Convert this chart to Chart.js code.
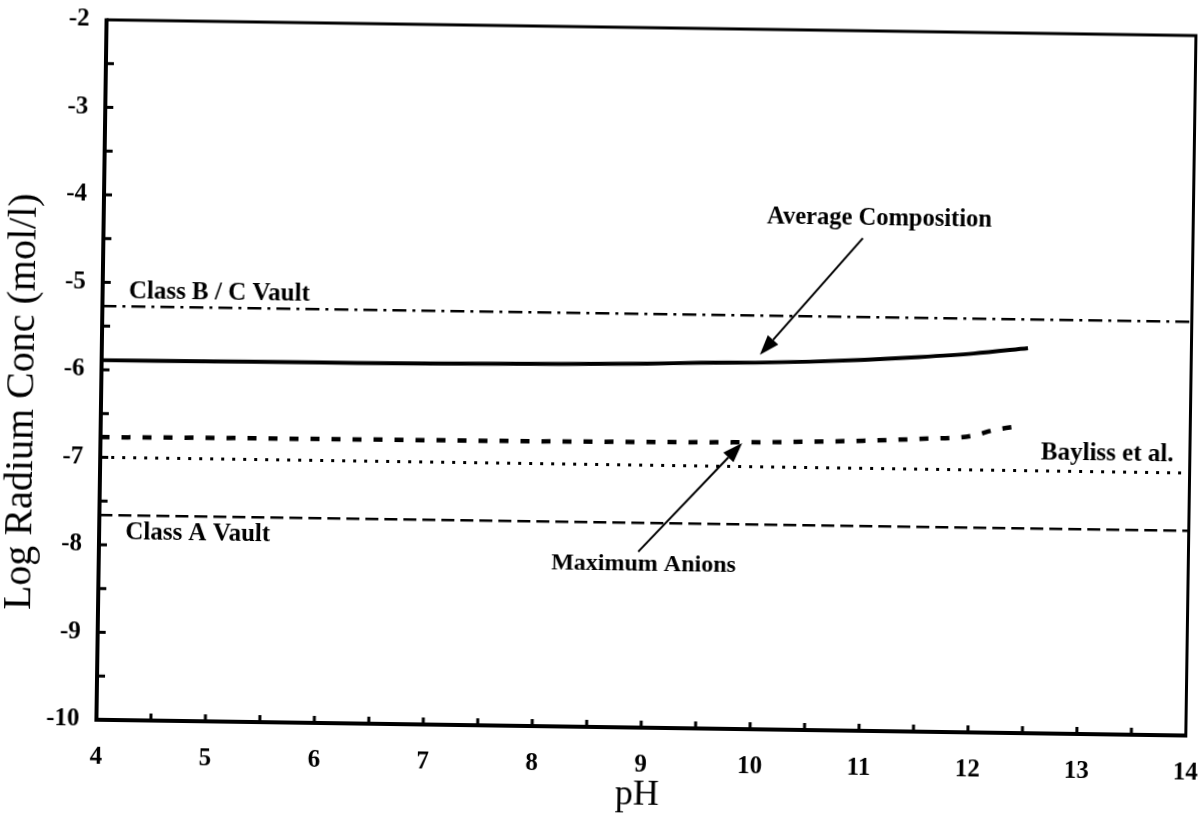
<!DOCTYPE html>
<html>
<head>
<meta charset="utf-8">
<title>Log Radium Conc vs pH</title>
<script src="https://cdn.jsdelivr.net/npm/chart.js@4.4.1/dist/chart.umd.min.js"></script>
<style>
  html, body { margin: 0; padding: 0; background: #fff; overflow: hidden; }
  /* the original is a slightly skewed scan, so the whole sheet is turned a little */
  #wrap { position: absolute; left: 0; top: 0; width: 1222px; height: 815px;
          transform: rotate(0.83deg); transform-origin: 599px 407px; }
</style>
</head>
<body>
<div id="wrap"><canvas id="radiumChart"></canvas></div>
<script>
// -----------------------------
//  DATA
// -----------------------------
const phTicks = [4, 5, 6, 7, 8, 9, 10, 11, 12, 13, 14];
const concTicks = [-10, -9, -8, -7, -6, -5, -4, -3, -2];

// horizontal limits (whole pH range)
const limitPH = [4, 14];
const classBC = [-5.27, -5.27];
const bayliss = [-7.0, -7.0];
const classA = [-7.66, -7.66];

// Average Composition curve
const avgPH = [4, 5, 6, 7, 8, 9, 9.5, 10, 10.5, 11, 11.5, 12, 12.5];
const avgConc = [-5.89, -5.885, -5.88, -5.875, -5.86, -5.84, -5.82, -5.81, -5.79, -5.76, -5.72, -5.67, -5.6];

// Maximum Anions curve
const maxPH = [4, 5, 6, 7, 8, 9, 10, 10.5, 11, 11.5, 12, 12.2, 12.45];
const maxConc = [-6.77, -6.76, -6.755, -6.75, -6.745, -6.735, -6.72, -6.705, -6.685, -6.655, -6.61, -6.54, -6.49];

// -----------------------------
//  LABELS / ARROWS (data coords)
// -----------------------------
const notes = [
    { text: "Average Composition", x: 11.12, y: -4.15, align: "center", size: 24.5 },
    { text: "Maximum Anions", x: 9.0, y: -8.13, align: "center", size: 24 },
    { text: "Class B / C Vault", x: 4.24, y: -5.1, align: "left", size: 25 },
    { text: "Class A Vault", x: 4.24, y: -7.86, align: "left", size: 25 },
    { text: "Bayliss et al.", x: 13.85, y: -6.8, align: "right", size: 25 }
];
const arrows = [
    { from: [10.97, -4.37], to: [10.04, -5.72] },
    { from: [8.95, -7.99], to: [9.89, -6.73] }
];

const SERIF = "'Liberation Serif', 'Times New Roman', serif";

function pts(xs, ys) {
    return xs.map((v, i) => ({ x: v, y: ys[i] }));
}

// -----------------------------
//  FRAME, INNER TICKS, TEXT
// -----------------------------
const paperPlugin = {
    id: "paper",
    afterDatasetsDraw(chart) {
        const { ctx, chartArea: a, scales: { x, y } } = chart;
        ctx.save();
        ctx.strokeStyle = "#000";
        ctx.fillStyle = "#000";
        ctx.lineCap = "butt";

        // box
        ctx.lineWidth = 3;
        ctx.beginPath();
        ctx.moveTo(a.left, a.top);
        ctx.lineTo(a.right, a.top);
        ctx.lineTo(a.right, a.bottom);
        ctx.stroke();
        ctx.lineWidth = 4;
        ctx.beginPath();
        ctx.moveTo(a.left, a.top - 1.5);
        ctx.lineTo(a.left, a.bottom);
        ctx.lineTo(a.right + 1.5, a.bottom);
        ctx.stroke();

        // inward ticks every half unit
        ctx.lineWidth = 3;
        ctx.beginPath();
        for (let v = 4.5; v < 14; v += 0.5) {
            const px = x.getPixelForValue(v);
            ctx.moveTo(px, a.bottom);
            ctx.lineTo(px, a.bottom - 7);
        }
        for (let v = -9.5; v < -2; v += 0.5) {
            const py = y.getPixelForValue(v);
            ctx.moveTo(a.left, py);
            ctx.lineTo(a.left + 8, py);
        }
        ctx.stroke();

        // arrows
        arrows.forEach(ar => {
            const x0 = x.getPixelForValue(ar.from[0]), y0 = y.getPixelForValue(ar.from[1]);
            const x1 = x.getPixelForValue(ar.to[0]), y1 = y.getPixelForValue(ar.to[1]);
            const ang = Math.atan2(y1 - y0, x1 - x0);
            const len = 20, half = 7;
            const bx = x1 - len * Math.cos(ang), by = y1 - len * Math.sin(ang);
            ctx.lineWidth = 2;
            ctx.beginPath();
            ctx.moveTo(x0, y0);
            ctx.lineTo(bx, by);
            ctx.stroke();
            ctx.beginPath();
            ctx.moveTo(x1, y1);
            ctx.lineTo(bx + half * Math.sin(ang), by - half * Math.cos(ang));
            ctx.lineTo(bx - half * Math.sin(ang), by + half * Math.cos(ang));
            ctx.closePath();
            ctx.fill();
        });

        // labels
        ctx.textBaseline = "middle";
        notes.forEach(n => {
            ctx.font = `bold ${n.size}px ${SERIF}`;
            ctx.textAlign = n.align;
            ctx.fillText(n.text, x.getPixelForValue(n.x), y.getPixelForValue(n.y));
        });

        // axis titles
        ctx.font = `normal 36px ${SERIF}`;
        ctx.textAlign = "center";
        ctx.fillText("pH", x.getPixelForValue(8.97), 795);

        ctx.translate(22, 410);
        ctx.rotate(-Math.PI / 2);
        ctx.font = `normal 40px ${SERIF}`;
        ctx.fillText("Log Radium Conc (mol/l)", 0, 0);

        ctx.restore();
    }
};

// -----------------------------
//  CHART
// -----------------------------
const tickFont = { family: SERIF, size: 25, weight: "bold" };

new Chart(document.getElementById("radiumChart").getContext("2d"), {
    type: "line",
    data: {
        datasets: [
            {
                label: "Class B / C Vault",
                data: pts(limitPH, classBC),
                borderColor: "#000",
                borderWidth: 2.5,
                borderDash: [14, 6, 3, 6]
            },
            {
                label: "Average Composition",
                data: pts(avgPH, avgConc),
                borderColor: "#000",
                borderWidth: 4,
                cubicInterpolationMode: "monotone"
            },
            {
                label: "Maximum Anions",
                data: pts(maxPH, maxConc),
                borderColor: "#000",
                borderWidth: 4.5,
                borderDash: [9, 12],
                cubicInterpolationMode: "monotone"
            },
            {
                label: "Bayliss et al.",
                data: pts(limitPH, bayliss),
                borderColor: "#000",
                borderWidth: 3,
                borderDash: [3, 8]
            },
            {
                label: "Class A Vault",
                data: pts(limitPH, classA),
                borderColor: "#000",
                borderWidth: 2.5,
                borderDash: [13, 6]
            }
        ]
    },
    options: {
        responsive: true,
        maintainAspectRatio: false,
        animation: false,
        layout: { padding: { top: 27, right: 31.5, bottom: 0, left: 0 } },
        elements: { point: { radius: 0 }, line: { fill: false } },
        plugins: { legend: { display: false }, tooltip: { enabled: false } },
        scales: {
            x: {
                type: "linear",
                min: 4,
                max: 14,
                afterBuildTicks: s => { s.ticks = phTicks.map(v => ({ value: v })); },
                afterFit: s => { s.height = 88; s.paddingLeft = 0; s.paddingRight = 0; },
                ticks: { font: tickFont, color: "#000", padding: 23, maxRotation: 0, autoSkip: false },
                grid: { display: false, drawTicks: false },
                border: { display: false }
            },
            y: {
                type: "linear",
                min: -10,
                max: -2,
                afterBuildTicks: s => { s.ticks = concTicks.map(v => ({ value: v })); },
                afterFit: s => { s.width = 101; s.paddingTop = 0; s.paddingBottom = 0; },
                ticks: { font: tickFont, color: "#000", padding: 17, autoSkip: false },
                grid: { display: false, drawTicks: false },
                border: { display: false }
            }
        }
    },
    plugins: [paperPlugin]
});
</script>
</body>
</html>
